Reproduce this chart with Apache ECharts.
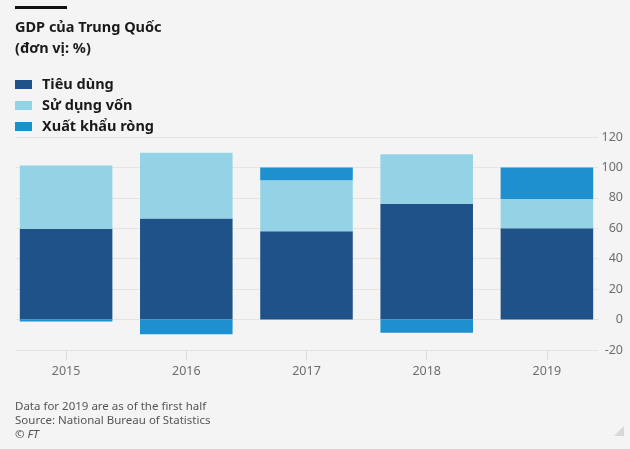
<!DOCTYPE html>
<html>
<head>
<meta charset="utf-8">
<style>
html,body{margin:0;padding:0;background:#f4f4f4;}
#chart{width:630px;height:449px;}
</style>
<script src="https://cdn.jsdelivr.net/npm/echarts@6/dist/echarts.min.js"></script>
</head>
<body>
<div id="chart"></div>
<script>
const years = ['2015', '2016', '2017', '2018', '2019'];
const consumption = [59.7, 66.5, 58.0, 76.2, 60.1];
const capital = [41.6, 43.1, 33.5, 32.4, 19.2];
const netExports = [-1.3, -9.6, 8.5, -8.6, 20.7];
const yTicks = { min: -20, max: 120, interval: 20 };

const C_CONS = '#20528a', C_CAP = '#94d3e6', C_NET = '#1e8fcf';
const FONT = 'Noto Sans';

const chart = echarts.init(document.getElementById('chart'));
chart.setOption({
  backgroundColor: '#f4f4f4',
  animation: false,
  textStyle: { fontFamily: FONT },
  title: [
    { text: 'GDP của Trung Quốc', left: 15, top: 20, padding: 0,
      textStyle: { fontFamily: FONT, fontSize: 14.5, fontWeight: 'bold', color: '#1a1a1a' } },
    { text: '(đơn vị: %)', left: 15, top: 41, padding: 0,
      textStyle: { fontFamily: FONT, fontSize: 14.5, fontWeight: 'bold', color: '#1a1a1a' } }
  ],
  legend: {
    orient: 'vertical', left: 15, top: 77, padding: 0, itemWidth: 17, itemHeight: 9, itemGap: 6,
    icon: 'rect', selectedMode: false,
    textStyle: { fontFamily: FONT, fontSize: 14.5, fontWeight: 'bold', color: '#1a1a1a', lineHeight: 14, padding: [0, 0, 0, 5] },
    data: ['Tiêu dùng', 'Sử dụng vốn', 'Xuất khẩu ròng']
  },
  grid: [
    { left: 6, right: 23, top: 137, bottom: 99 },
    { left: 16, right: 32, top: 137, bottom: 99 }
  ],
  xAxis: [
    { type: 'category', gridIndex: 0, data: years,
      axisLine: { show: false, onZero: false },
      axisTick: { show: true, alignWithLabel: true, length: 10, lineStyle: { color: '#dcdcdc' } },
      axisLabel: { margin: 15, fontSize: 12.5, color: '#6e6e6e', fontFamily: FONT } },
    { type: 'category', gridIndex: 1, data: years,
      axisLine: { show: true, onZero: false, lineStyle: { color: '#e2e2e2', width: 1 } },
      axisTick: { show: false }, axisLabel: { show: false } }
  ],
  yAxis: [
    { type: 'value', gridIndex: 0, min: yTicks.min, max: yTicks.max, interval: yTicks.interval,
      show: false, splitLine: { show: false } },
    { type: 'value', gridIndex: 1, position: 'right', min: yTicks.min, max: yTicks.max, interval: yTicks.interval,
      axisLine: { show: false }, axisTick: { show: false },
      axisLabel: { align: 'right', margin: 25, fontSize: 12.5, color: '#6e6e6e', fontFamily: FONT },
      splitLine: { show: true, lineStyle: { color: '#e9e3e0', width: 1 } } }
  ],
  series: [
    { name: 'Tiêu dùng', type: 'bar', stack: 'gdp', xAxisIndex: 0, yAxisIndex: 0,
      barWidth: '77%', data: consumption, itemStyle: { color: C_CONS } },
    { name: 'Sử dụng vốn', type: 'bar', stack: 'gdp', xAxisIndex: 0, yAxisIndex: 0,
      barWidth: '77%', data: capital, itemStyle: { color: C_CAP } },
    { name: 'Xuất khẩu ròng', type: 'bar', stack: 'gdp', xAxisIndex: 0, yAxisIndex: 0,
      barWidth: '77%', data: netExports, itemStyle: { color: C_NET } }
  ],
  graphic: [
    { type: 'rect', left: 15, top: 6, shape: { width: 52, height: 3 }, style: { fill: '#111' } },
    { type: 'text', left: 15, top: 401, style: { text: 'Data for 2019 are as of the first half', font: '11.5px "Noto Sans"', fill: '#555' } },
    { type: 'text', left: 15, top: 415, style: { text: 'Source: National Bureau of Statistics', font: '11.5px "Noto Sans"', fill: '#555' } },
    { type: 'text', left: 15, top: 429, style: { text: '© FT', font: 'italic 11.5px "Noto Sans"', fill: '#555' } },
    { type: 'polygon', shape: { points: [[624, 426], [624, 436], [614, 436]] }, style: { fill: '#d8d8d8' } }
  ]
});
</script>
</body>
</html>
